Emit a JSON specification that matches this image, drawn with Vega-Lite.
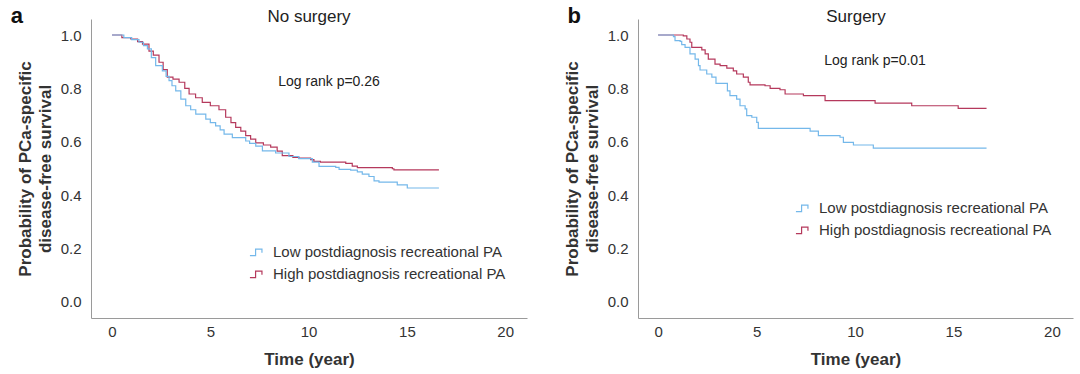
{
  "$schema": "https://vega.github.io/schema/vega-lite/v6.json",
  "background": "white",
  "padding": {"left": 10, "top": 5, "right": 2, "bottom": 5},
  "config": {
    "font": "Liberation Sans",
    "view": {"stroke": null},
    "axis": {"domainColor": "#9a9a9a", "domainWidth": 1, "ticks": false, "grid": false, "labelFontSize": 15, "labelColor": "#333333", "labelFont": "Liberation Sans", "titleFont": "Liberation Sans", "titleFontSize": 17, "titleFontWeight": "bold", "titleColor": "#333333"},
    "legend": {"labelFontSize": 15, "labelColor": "#333333", "labelFont": "Liberation Sans", "labelLimit": 0}
  },
  "datasets": {
    "km": [
      {"p":"a","g":"High postdiagnosis recreational PA","t":0,"s":1.0},
      {"p":"a","g":"High postdiagnosis recreational PA","t":0.5,"s":0.99},
      {"p":"a","g":"High postdiagnosis recreational PA","t":0.95,"s":0.985},
      {"p":"a","g":"High postdiagnosis recreational PA","t":1.3,"s":0.975},
      {"p":"a","g":"High postdiagnosis recreational PA","t":1.55,"s":0.966},
      {"p":"a","g":"High postdiagnosis recreational PA","t":1.88,"s":0.94},
      {"p":"a","g":"High postdiagnosis recreational PA","t":2.1,"s":0.925},
      {"p":"a","g":"High postdiagnosis recreational PA","t":2.39,"s":0.898},
      {"p":"a","g":"High postdiagnosis recreational PA","t":2.6,"s":0.87},
      {"p":"a","g":"High postdiagnosis recreational PA","t":2.81,"s":0.842},
      {"p":"a","g":"High postdiagnosis recreational PA","t":3.1,"s":0.835},
      {"p":"a","g":"High postdiagnosis recreational PA","t":3.41,"s":0.823},
      {"p":"a","g":"High postdiagnosis recreational PA","t":3.7,"s":0.8},
      {"p":"a","g":"High postdiagnosis recreational PA","t":3.92,"s":0.779},
      {"p":"a","g":"High postdiagnosis recreational PA","t":4.25,"s":0.765},
      {"p":"a","g":"High postdiagnosis recreational PA","t":4.59,"s":0.748},
      {"p":"a","g":"High postdiagnosis recreational PA","t":5.0,"s":0.735},
      {"p":"a","g":"High postdiagnosis recreational PA","t":5.44,"s":0.72},
      {"p":"a","g":"High postdiagnosis recreational PA","t":5.78,"s":0.692},
      {"p":"a","g":"High postdiagnosis recreational PA","t":6.05,"s":0.672},
      {"p":"a","g":"High postdiagnosis recreational PA","t":6.29,"s":0.654},
      {"p":"a","g":"High postdiagnosis recreational PA","t":6.55,"s":0.64},
      {"p":"a","g":"High postdiagnosis recreational PA","t":6.8,"s":0.623},
      {"p":"a","g":"High postdiagnosis recreational PA","t":7.05,"s":0.61},
      {"p":"a","g":"High postdiagnosis recreational PA","t":7.31,"s":0.596},
      {"p":"a","g":"High postdiagnosis recreational PA","t":7.7,"s":0.588},
      {"p":"a","g":"High postdiagnosis recreational PA","t":8.07,"s":0.58},
      {"p":"a","g":"High postdiagnosis recreational PA","t":8.4,"s":0.565},
      {"p":"a","g":"High postdiagnosis recreational PA","t":8.66,"s":0.548},
      {"p":"a","g":"High postdiagnosis recreational PA","t":9.2,"s":0.542},
      {"p":"a","g":"High postdiagnosis recreational PA","t":9.51,"s":0.539},
      {"p":"a","g":"High postdiagnosis recreational PA","t":10.1,"s":0.533},
      {"p":"a","g":"High postdiagnosis recreational PA","t":10.27,"s":0.527},
      {"p":"a","g":"High postdiagnosis recreational PA","t":10.6,"s":0.524},
      {"p":"a","g":"High postdiagnosis recreational PA","t":11.89,"s":0.519},
      {"p":"a","g":"High postdiagnosis recreational PA","t":12.22,"s":0.509},
      {"p":"a","g":"High postdiagnosis recreational PA","t":12.48,"s":0.503},
      {"p":"a","g":"High postdiagnosis recreational PA","t":14.26,"s":0.499},
      {"p":"a","g":"High postdiagnosis recreational PA","t":14.34,"s":0.495},
      {"p":"a","g":"High postdiagnosis recreational PA","t":16.63,"s":0.495},
      {"p":"a","g":"Low postdiagnosis recreational PA","t":0,"s":1.0},
      {"p":"a","g":"Low postdiagnosis recreational PA","t":0.6,"s":0.99},
      {"p":"a","g":"Low postdiagnosis recreational PA","t":1.0,"s":0.983},
      {"p":"a","g":"Low postdiagnosis recreational PA","t":1.37,"s":0.973},
      {"p":"a","g":"Low postdiagnosis recreational PA","t":1.6,"s":0.96},
      {"p":"a","g":"Low postdiagnosis recreational PA","t":1.8,"s":0.948},
      {"p":"a","g":"Low postdiagnosis recreational PA","t":2.0,"s":0.915},
      {"p":"a","g":"Low postdiagnosis recreational PA","t":2.22,"s":0.885},
      {"p":"a","g":"Low postdiagnosis recreational PA","t":2.56,"s":0.866},
      {"p":"a","g":"Low postdiagnosis recreational PA","t":2.75,"s":0.845},
      {"p":"a","g":"Low postdiagnosis recreational PA","t":2.9,"s":0.829},
      {"p":"a","g":"Low postdiagnosis recreational PA","t":3.05,"s":0.81},
      {"p":"a","g":"Low postdiagnosis recreational PA","t":3.24,"s":0.791},
      {"p":"a","g":"Low postdiagnosis recreational PA","t":3.5,"s":0.76},
      {"p":"a","g":"Low postdiagnosis recreational PA","t":3.75,"s":0.735},
      {"p":"a","g":"Low postdiagnosis recreational PA","t":4.0,"s":0.72},
      {"p":"a","g":"Low postdiagnosis recreational PA","t":4.26,"s":0.704},
      {"p":"a","g":"Low postdiagnosis recreational PA","t":4.77,"s":0.685},
      {"p":"a","g":"Low postdiagnosis recreational PA","t":5.0,"s":0.672},
      {"p":"a","g":"Low postdiagnosis recreational PA","t":5.27,"s":0.66},
      {"p":"a","g":"Low postdiagnosis recreational PA","t":5.5,"s":0.645},
      {"p":"a","g":"Low postdiagnosis recreational PA","t":5.7,"s":0.629},
      {"p":"a","g":"Low postdiagnosis recreational PA","t":6.12,"s":0.616},
      {"p":"a","g":"Low postdiagnosis recreational PA","t":6.8,"s":0.603},
      {"p":"a","g":"Low postdiagnosis recreational PA","t":7.0,"s":0.594},
      {"p":"a","g":"Low postdiagnosis recreational PA","t":7.31,"s":0.584},
      {"p":"a","g":"Low postdiagnosis recreational PA","t":7.65,"s":0.566},
      {"p":"a","g":"Low postdiagnosis recreational PA","t":8.32,"s":0.558},
      {"p":"a","g":"Low postdiagnosis recreational PA","t":9.0,"s":0.545},
      {"p":"a","g":"Low postdiagnosis recreational PA","t":9.5,"s":0.537},
      {"p":"a","g":"Low postdiagnosis recreational PA","t":10.19,"s":0.524},
      {"p":"a","g":"Low postdiagnosis recreational PA","t":10.53,"s":0.508},
      {"p":"a","g":"Low postdiagnosis recreational PA","t":11.38,"s":0.504},
      {"p":"a","g":"Low postdiagnosis recreational PA","t":11.55,"s":0.497},
      {"p":"a","g":"Low postdiagnosis recreational PA","t":12.14,"s":0.494},
      {"p":"a","g":"Low postdiagnosis recreational PA","t":12.48,"s":0.487},
      {"p":"a","g":"Low postdiagnosis recreational PA","t":12.73,"s":0.479},
      {"p":"a","g":"Low postdiagnosis recreational PA","t":13.07,"s":0.47},
      {"p":"a","g":"Low postdiagnosis recreational PA","t":13.33,"s":0.454},
      {"p":"a","g":"Low postdiagnosis recreational PA","t":13.58,"s":0.449},
      {"p":"a","g":"Low postdiagnosis recreational PA","t":14.51,"s":0.439},
      {"p":"a","g":"Low postdiagnosis recreational PA","t":15.02,"s":0.427},
      {"p":"a","g":"Low postdiagnosis recreational PA","t":16.63,"s":0.427},
      {"p":"b","g":"High postdiagnosis recreational PA","t":0,"s":1.0},
      {"p":"b","g":"High postdiagnosis recreational PA","t":1.28,"s":0.997},
      {"p":"b","g":"High postdiagnosis recreational PA","t":1.46,"s":0.985},
      {"p":"b","g":"High postdiagnosis recreational PA","t":1.62,"s":0.973},
      {"p":"b","g":"High postdiagnosis recreational PA","t":1.71,"s":0.954},
      {"p":"b","g":"High postdiagnosis recreational PA","t":2.22,"s":0.944},
      {"p":"b","g":"High postdiagnosis recreational PA","t":2.39,"s":0.929},
      {"p":"b","g":"High postdiagnosis recreational PA","t":2.55,"s":0.91},
      {"p":"b","g":"High postdiagnosis recreational PA","t":2.89,"s":0.891},
      {"p":"b","g":"High postdiagnosis recreational PA","t":3.15,"s":0.885},
      {"p":"b","g":"High postdiagnosis recreational PA","t":3.49,"s":0.876},
      {"p":"b","g":"High postdiagnosis recreational PA","t":3.82,"s":0.866},
      {"p":"b","g":"High postdiagnosis recreational PA","t":3.99,"s":0.854},
      {"p":"b","g":"High postdiagnosis recreational PA","t":4.33,"s":0.842},
      {"p":"b","g":"High postdiagnosis recreational PA","t":4.58,"s":0.823},
      {"p":"b","g":"High postdiagnosis recreational PA","t":4.67,"s":0.813},
      {"p":"b","g":"High postdiagnosis recreational PA","t":5.43,"s":0.81},
      {"p":"b","g":"High postdiagnosis recreational PA","t":5.69,"s":0.8},
      {"p":"b","g":"High postdiagnosis recreational PA","t":6.19,"s":0.795},
      {"p":"b","g":"High postdiagnosis recreational PA","t":6.45,"s":0.779},
      {"p":"b","g":"High postdiagnosis recreational PA","t":7.38,"s":0.773},
      {"p":"b","g":"High postdiagnosis recreational PA","t":8.48,"s":0.754},
      {"p":"b","g":"High postdiagnosis recreational PA","t":11.02,"s":0.745},
      {"p":"b","g":"High postdiagnosis recreational PA","t":12.88,"s":0.735},
      {"p":"b","g":"High postdiagnosis recreational PA","t":15.24,"s":0.725},
      {"p":"b","g":"High postdiagnosis recreational PA","t":16.68,"s":0.725},
      {"p":"b","g":"Low postdiagnosis recreational PA","t":0,"s":1.0},
      {"p":"b","g":"Low postdiagnosis recreational PA","t":0.78,"s":0.994},
      {"p":"b","g":"Low postdiagnosis recreational PA","t":0.86,"s":0.979},
      {"p":"b","g":"Low postdiagnosis recreational PA","t":1.12,"s":0.976},
      {"p":"b","g":"Low postdiagnosis recreational PA","t":1.2,"s":0.964},
      {"p":"b","g":"Low postdiagnosis recreational PA","t":1.37,"s":0.954},
      {"p":"b","g":"Low postdiagnosis recreational PA","t":1.62,"s":0.929},
      {"p":"b","g":"Low postdiagnosis recreational PA","t":1.88,"s":0.91},
      {"p":"b","g":"Low postdiagnosis recreational PA","t":2.05,"s":0.885},
      {"p":"b","g":"Low postdiagnosis recreational PA","t":2.13,"s":0.869},
      {"p":"b","g":"Low postdiagnosis recreational PA","t":2.47,"s":0.854},
      {"p":"b","g":"Low postdiagnosis recreational PA","t":2.73,"s":0.842},
      {"p":"b","g":"Low postdiagnosis recreational PA","t":2.94,"s":0.819},
      {"p":"b","g":"Low postdiagnosis recreational PA","t":3.52,"s":0.791},
      {"p":"b","g":"Low postdiagnosis recreational PA","t":3.65,"s":0.773},
      {"p":"b","g":"Low postdiagnosis recreational PA","t":3.99,"s":0.76},
      {"p":"b","g":"Low postdiagnosis recreational PA","t":4.16,"s":0.735},
      {"p":"b","g":"Low postdiagnosis recreational PA","t":4.42,"s":0.723},
      {"p":"b","g":"Low postdiagnosis recreational PA","t":4.5,"s":0.698},
      {"p":"b","g":"Low postdiagnosis recreational PA","t":4.76,"s":0.692},
      {"p":"b","g":"Low postdiagnosis recreational PA","t":5.01,"s":0.673},
      {"p":"b","g":"Low postdiagnosis recreational PA","t":5.09,"s":0.65},
      {"p":"b","g":"Low postdiagnosis recreational PA","t":7.72,"s":0.64},
      {"p":"b","g":"Low postdiagnosis recreational PA","t":8.14,"s":0.623},
      {"p":"b","g":"Low postdiagnosis recreational PA","t":9.24,"s":0.617},
      {"p":"b","g":"Low postdiagnosis recreational PA","t":9.41,"s":0.598},
      {"p":"b","g":"Low postdiagnosis recreational PA","t":9.92,"s":0.588},
      {"p":"b","g":"Low postdiagnosis recreational PA","t":10.93,"s":0.576},
      {"p":"b","g":"Low postdiagnosis recreational PA","t":16.68,"s":0.576}
    ],
    "notes": [
      {"p":"a","kind":"letter","label":"a"},
      {"p":"a","kind":"heading","label":"No surgery"},
      {"p":"a","kind":"logrank","label":"Log rank p=0.26"},
      {"p":"b","kind":"letter","label":"b"},
      {"p":"b","kind":"heading","label":"Surgery"},
      {"p":"b","kind":"logrank","label":"Log rank p=0.01"}
    ]
  },
  "spacing": 36,
  "resolve": {"legend": {"color": "independent"}, "scale": {"color": "independent"}},
  "hconcat": [
    {
      "width": 436,
      "height": 299,
      "layer": [
        {
          "data": {"name": "km"},
          "transform": [{"filter": "datum.p == 'a'"}],
          "mark": {"type": "line", "interpolate": "step-after", "strokeWidth": 1.2},
          "encoding": {
            "x": {"field": "t", "type": "quantitative", "scale": {"domain": [-1.07, 21.11], "nice": false, "zero": false}, "axis": {"values": [0, 5, 10, 15, 20], "title": "Time (year)", "labelPadding": 6, "titlePadding": 12}},
            "y": {"field": "s", "type": "quantitative", "scale": {"domain": [-0.06, 1.06], "nice": false, "zero": false}, "axis": {"values": [0, 0.2, 0.4, 0.6, 0.8, 1.0], "format": ".1f", "labelPadding": 10, "title": ["Probability of PCa-specific", "disease-free survival"], "titlePadding": 6, "titleLineHeight": 20}},
            "color": {"field": "g", "type": "nominal", "scale": {"domain": ["Low postdiagnosis recreational PA", "High postdiagnosis recreational PA"], "range": ["#74b8ea", "#b5395c"]}, "legend": {"title": null, "orient": "none", "legendX": 158, "legendY": 225, "symbolType": "M-1,0.5L-0.2,0.5L-0.2,-0.4L0.7,-0.4L0.7,0.1", "symbolSize": 200, "symbolStrokeWidth": 1.2, "labelOffset": 8, "rowPadding": 6, "labelLimit": 0}}
          }
        },
        {
          "data": {"name": "notes"},
          "transform": [{"filter": "datum.p == 'a' && datum.kind == 'logrank'"}],
          "mark": {"type": "text", "fontSize": 14, "color": "#222222", "align": "center", "baseline": "middle"},
          "encoding": {"x": {"datum": 11.04}, "y": {"datum": 0.825}, "text": {"field": "label"}}
        },
        {
          "data": {"name": "notes"},
          "transform": [{"filter": "datum.p == 'a' && datum.kind == 'heading'"}],
          "mark": {"type": "text", "fontSize": 17, "color": "#222222", "align": "center", "baseline": "middle"},
          "encoding": {"x": {"datum": 10.02}, "y": {"datum": 1.067}, "text": {"field": "label"}}
        },
        {
          "data": {"name": "notes"},
          "transform": [{"filter": "datum.p == 'a' && datum.kind == 'letter'"}],
          "mark": {"type": "text", "fontSize": 22, "fontWeight": "bold", "color": "#111111", "align": "left", "baseline": "middle"},
          "encoding": {"x": {"datum": -5.15}, "y": {"datum": 1.07}, "text": {"field": "label"}}
        }
      ]
    },
    {
      "width": 435,
      "height": 299,
      "layer": [
        {
          "data": {"name": "km"},
          "transform": [{"filter": "datum.p == 'b'"}],
          "mark": {"type": "line", "interpolate": "step-after", "strokeWidth": 1.2},
          "encoding": {
            "x": {"field": "t", "type": "quantitative", "scale": {"domain": [-1.02, 21.07], "nice": false, "zero": false}, "axis": {"values": [0, 5, 10, 15, 20], "title": "Time (year)", "labelPadding": 6, "titlePadding": 12}},
            "y": {"field": "s", "type": "quantitative", "scale": {"domain": [-0.06, 1.06], "nice": false, "zero": false}, "axis": {"values": [0, 0.2, 0.4, 0.6, 0.8, 1.0], "format": ".1f", "labelPadding": 10, "title": ["Probability of PCa-specific", "disease-free survival"], "titlePadding": 6, "titleLineHeight": 20}},
            "color": {"field": "g", "type": "nominal", "scale": {"domain": ["Low postdiagnosis recreational PA", "High postdiagnosis recreational PA"], "range": ["#74b8ea", "#b5395c"]}, "legend": {"title": null, "orient": "none", "legendX": 157, "legendY": 181, "symbolType": "M-1,0.5L-0.2,0.5L-0.2,-0.4L0.7,-0.4L0.7,0.1", "symbolSize": 200, "symbolStrokeWidth": 1.2, "labelOffset": 8, "rowPadding": 6, "labelLimit": 0}}
          }
        },
        {
          "data": {"name": "notes"},
          "transform": [{"filter": "datum.p == 'b' && datum.kind == 'logrank'"}],
          "mark": {"type": "text", "fontSize": 14, "color": "#222222", "align": "center", "baseline": "middle"},
          "encoding": {"x": {"datum": 11.02}, "y": {"datum": 0.904}, "text": {"field": "label"}}
        },
        {
          "data": {"name": "notes"},
          "transform": [{"filter": "datum.p == 'b' && datum.kind == 'heading'"}],
          "mark": {"type": "text", "fontSize": 17, "color": "#222222", "align": "center", "baseline": "middle"},
          "encoding": {"x": {"datum": 10.05}, "y": {"datum": 1.067}, "text": {"field": "label"}}
        },
        {
          "data": {"name": "notes"},
          "transform": [{"filter": "datum.p == 'b' && datum.kind == 'letter'"}],
          "mark": {"type": "text", "fontSize": 22, "fontWeight": "bold", "color": "#111111", "align": "left", "baseline": "middle"},
          "encoding": {"x": {"datum": -4.6}, "y": {"datum": 1.07}, "text": {"field": "label"}}
        }
      ]
    }
  ]
}
